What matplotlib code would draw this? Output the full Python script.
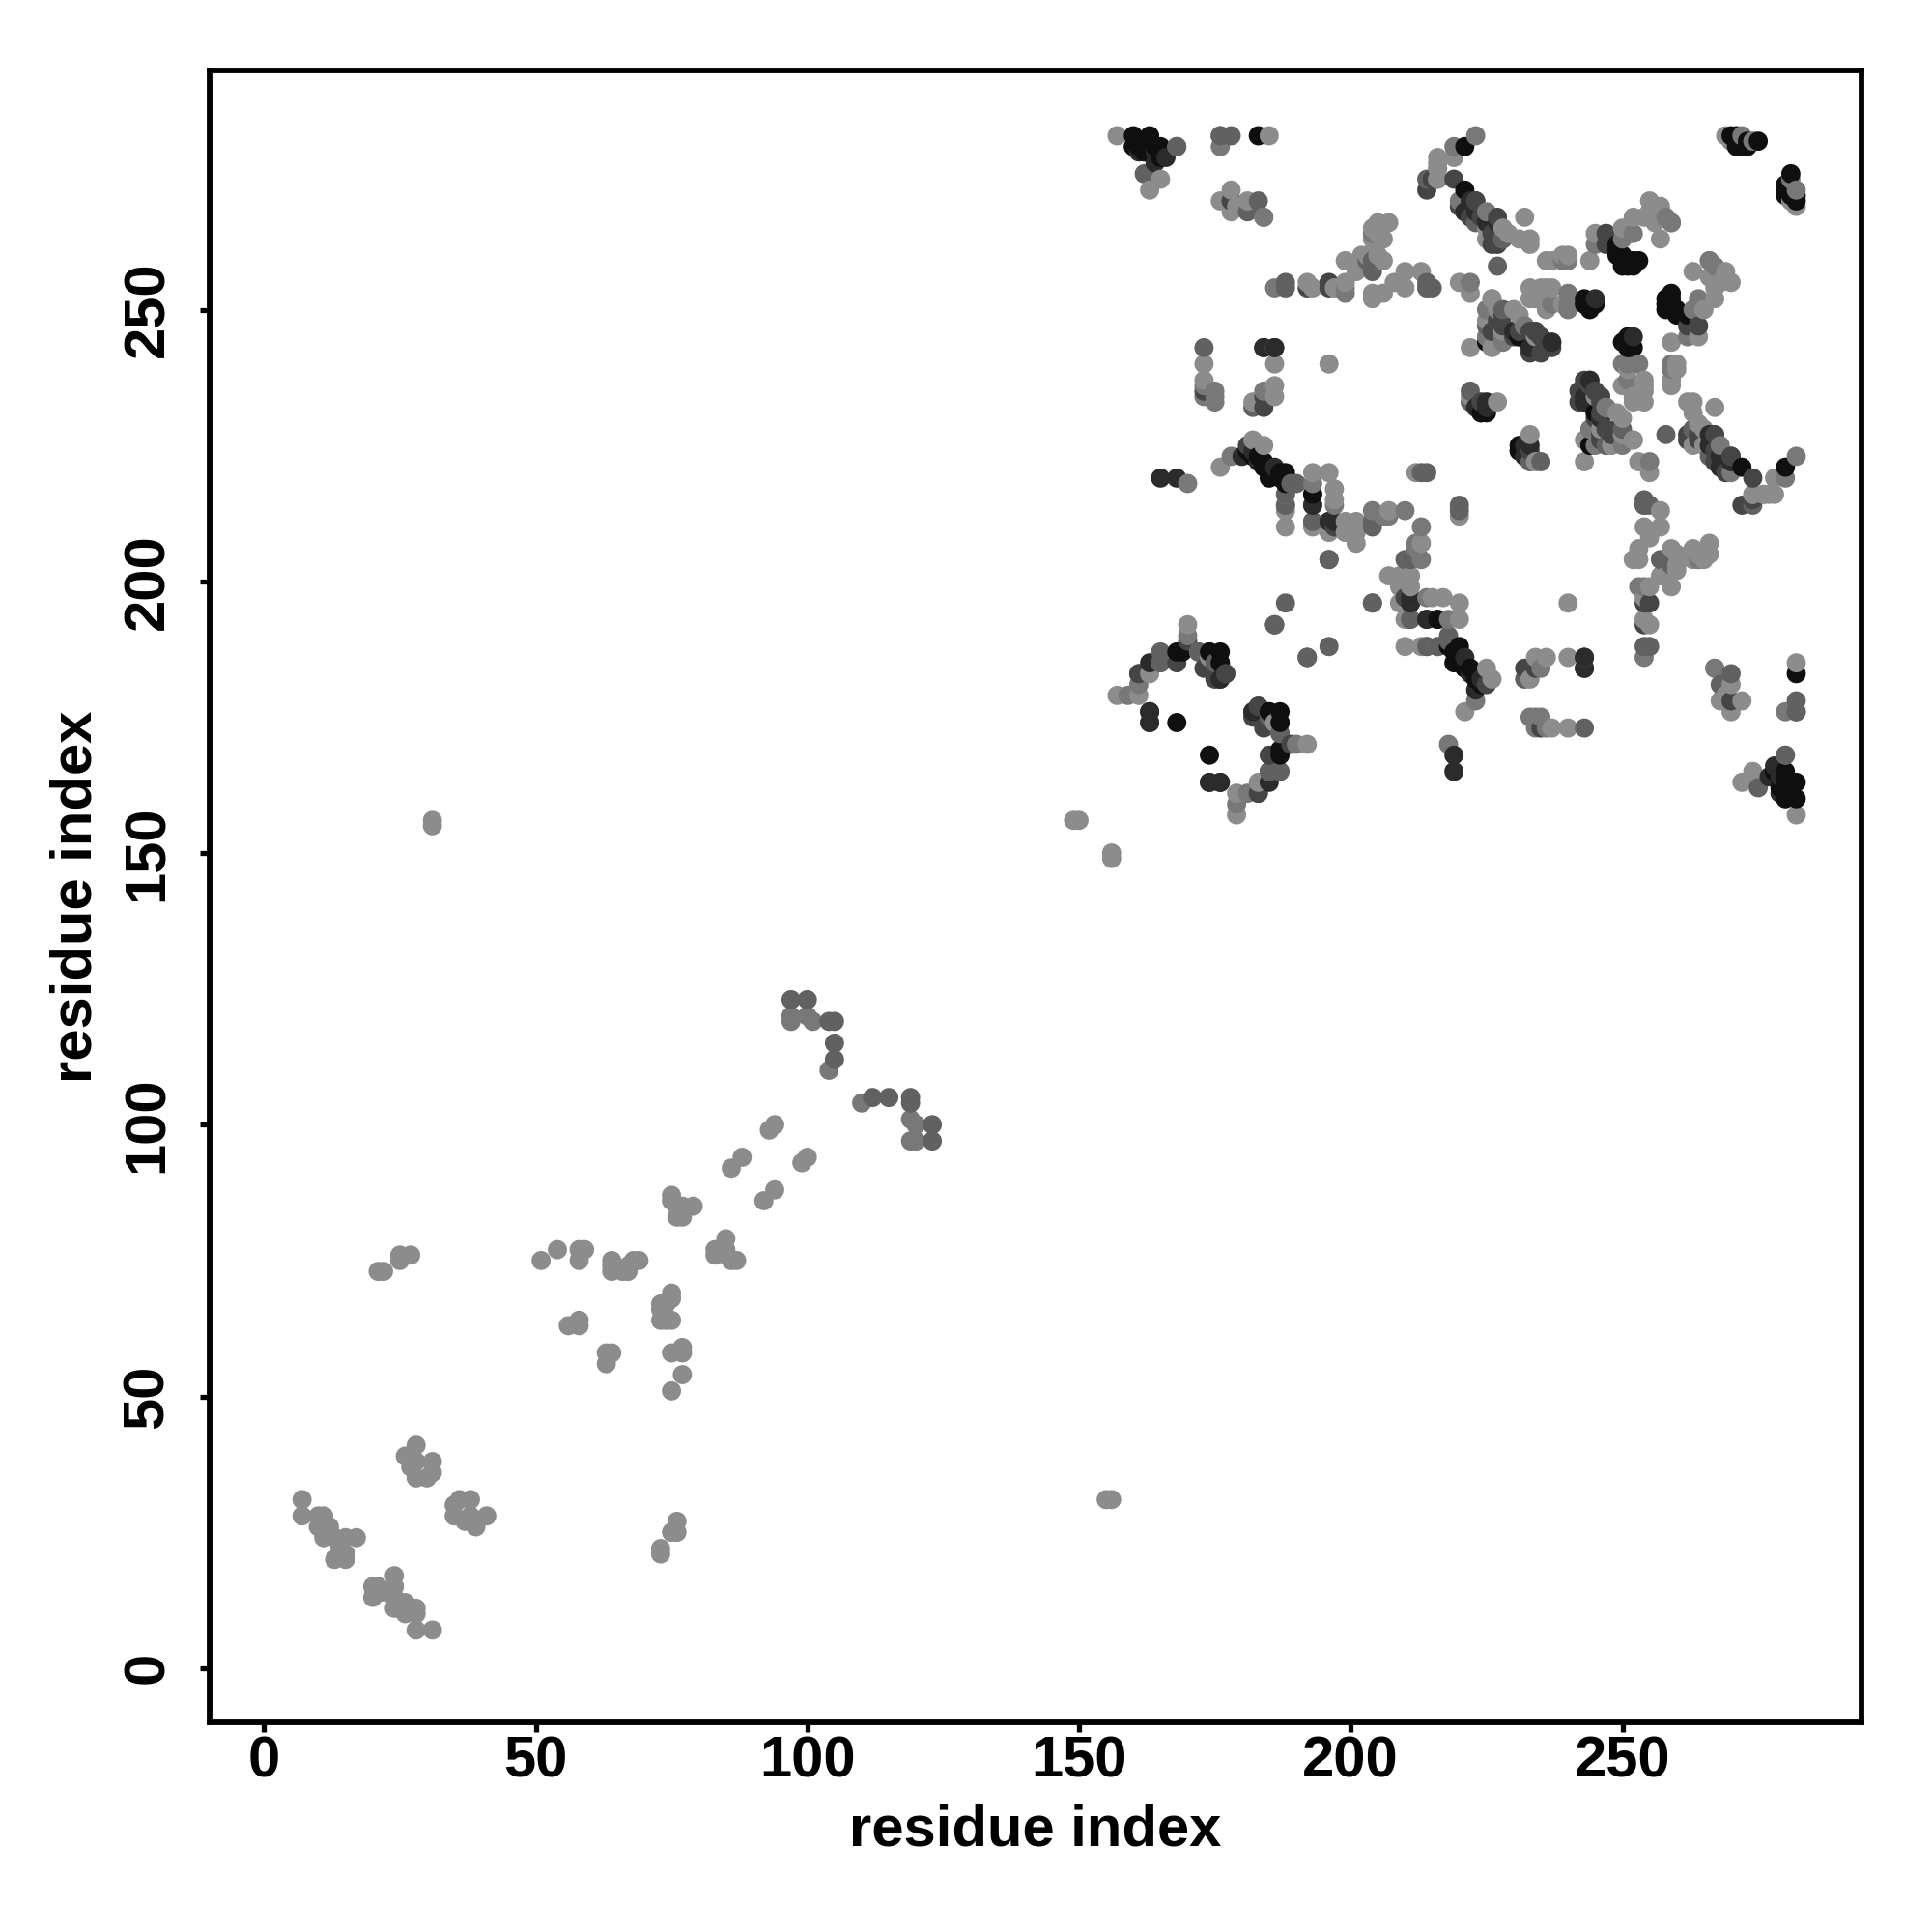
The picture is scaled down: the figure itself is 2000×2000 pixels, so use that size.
"""Residue contact map drawn with grey points, symmetric about the diagonal."""
import numpy as np
import matplotlib
matplotlib.use("Agg")
import matplotlib.pyplot as plt

plt.rcParams["font.family"] = ["Liberation Sans", "DejaVu Sans"]
plt.rcParams["font.weight"] = "bold"

# contacts are stored once, i < j, grouped by shade
light_i = [7, 7, 10, 11, 10, 12, 13, 13, 15, 15, 17, 14, 11, 12, 15,
           26, 28, 28, 30, 31, 28, 27, 31, 21, 22, 25, 25, 27, 31, 31,
           51, 54, 58, 58, 59, 56, 58, 58, 64, 64, 66, 67, 68, 69, 67, 64,
           75, 75, 76, 77, 76, 79, 77, 86, 88, 93, 94, 149, 150,
           157, 160, 165, 163, 185,
           178, 176, 178, 178, 181, 179, 184, 201, 216, 216, 216,
           192, 193, 197, 199, 199, 201, 202, 204, 205, 207, 206, 204, 204,
           206, 204, 206, 208, 210, 210, 213,
           173, 173, 186, 186, 186, 182, 196,
           176, 182, 184, 188, 188, 188, 193, 193, 196, 197, 197, 196,
           199, 199, 201, 201, 201, 207, 204,
           170, 165, 163, 157, 161, 174,
           174, 219, 216, 216, 216, 225, 225, 228, 229, 231, 233, 233, 232,
           236, 237, 239, 240, 244, 245, 250, 252, 254, 255, 257, 255, 256, 257,
           220, 222, 226, 225, 226, 222, 230, 233, 234, 235, 237, 239, 222, 227,
           269, 270, 259,
           236, 236, 233, 231, 232, 234, 228, 232, 228, 226, 227,
           205, 205, 203, 212]
light_j = [31, 28, 28, 28, 26, 26, 24, 20, 21, 24, 24, 22, 24, 26, 20,
           39, 41, 35, 35, 38, 38, 37, 36, 73, 73, 75, 76, 76, 155, 156,
           75, 77, 75, 77, 77, 63, 63, 64, 73, 75, 73, 73, 75, 75, 74, 74,
           87, 86, 85, 83, 83, 85, 85, 92, 94, 99, 100, 156, 156,
           282, 280, 274, 272, 282,
           272, 270, 269, 268, 270, 269, 267, 258, 278, 276, 274,
           255, 254, 254, 259, 255, 257, 260, 265, 266, 266, 263, 263, 252,
           259, 253, 253, 255, 257, 254, 257,
           240, 237, 240, 236, 234, 233, 240,
           221, 226, 225, 216, 213, 210, 220, 210, 220, 217, 215, 209,
           211, 209, 211, 209, 207, 213, 211,
           192, 185, 183, 179, 179, 187,
           186, 278, 277, 276, 274, 265, 263, 265, 264, 263, 263, 262, 267,
           259, 259, 260, 260, 259, 264, 265, 267, 267, 270, 269, 268, 266, 263,
           255, 253, 252, 248, 243, 243, 250, 252, 252, 254, 254, 251, 234, 233,
           282, 281, 266,
           250, 254, 254, 249, 247, 245, 246, 247, 263, 252, 250,
           264, 260, 260, 220]

soft_i = [97, 97, 100, 101, 104, 168, 176, 176, 178, 184, 186, 199, 199, 204,
          173, 173, 175, 175, 175, 184, 170, 172, 159, 161, 204, 206, 207, 223,
          170, 178, 188, 193, 193, 197, 186, 192, 213, 214, 174,
          219, 220, 225, 239, 240, 245, 250, 252, 258, 222, 225, 225, 228, 232,
          237, 240, 272, 274, 259, 240, 240, 228, 227]
soft_j = [120, 119, 120, 119, 110, 280, 280, 282, 270, 267, 254, 254, 253, 264,
          236, 234, 235, 234, 233, 235, 190, 187, 179, 181, 213, 212, 212, 282,
          218, 223, 214, 218, 211, 214, 192, 186, 210, 254, 187,
          280, 270, 268, 259, 259, 262, 263, 264, 267, 255, 250, 245, 245, 247,
          251, 251, 282, 281, 266, 253, 250, 244, 248]

mid_i = [97, 100, 104, 105, 105, 105, 176, 178, 183, 181, 186, 188, 188, 214,
         203, 204, 204, 173, 182, 161, 165, 172, 175, 188, 189, 190, 193, 204,
         196, 188, 186, 204, 192, 214, 196, 214, 214, 215, 227, 168, 165, 162,
         247, 222, 222, 228, 204, 188, 225, 213, 228, 223]
mid_j = [123, 123, 119, 119, 115, 112, 282, 282, 270, 268, 243, 255, 254, 274,
         259, 257, 259, 243, 232, 183, 187, 187, 185, 216, 218, 218, 211, 210,
         204, 196, 243, 196, 186, 255, 211, 220, 254, 254, 258, 280, 185, 275,
         264, 235, 233, 250, 211, 214, 247, 220, 263, 266]

dark_i = [192, 196, 196, 184, 184, 193, 193, 214, 215, 178, 173, 210, 211, 170,
          168, 161, 163, 173, 175, 176, 177, 183, 227, 227, 227, 228, 230, 234,
          236, 237, 247, 247, 243, 219, 223, 222, 220, 221, 227, 224, 227, 181,
          237, 235, 234, 233, 230, 231, 226, 228, 235, 233, 223, 224, 226, 226]
dark_j = [254, 255, 254, 234, 232, 214, 216, 272, 274, 270, 235, 197, 197, 189,
          185, 183, 174, 184, 182, 182, 183, 177, 267, 264, 262, 249, 246, 246,
          244, 244, 264, 262, 251, 274, 270, 267, 269, 268, 248, 233, 246, 225,
          243, 242, 246, 242, 245, 246, 246, 247, 245, 246, 270, 267, 264, 262]

deep_i = [161, 164, 166, 163, 165, 168, 180, 183, 163, 176, 163, 163, 176,
          184, 233, 234, 237, 225, 196, 197, 193, 186, 184, 230, 231, 221, 224, 225, 223, 245,
          182, 222, 223, 225, 227, 164, 186]
deep_j = [279, 279, 278, 176, 219, 219, 223, 222, 185, 185, 176, 174, 182,
          243, 243, 243, 244, 233, 211, 211, 214, 243, 243, 246, 245, 268, 231, 232, 232, 252,
          224, 270, 268, 266, 266, 277, 221]

black_i = [160, 160, 161, 162, 163, 165, 183, 181, 182, 184, 185, 186, 187, 188, 188,
           168, 169, 174, 168, 185, 221, 221, 243, 244, 249, 249, 250, 250, 252, 253,
           270, 271, 271, 272, 275, 225, 224, 176, 193,
           162, 163, 164, 165, 183, 184, 185, 187, 271, 272, 273, 273,
           249, 250, 251, 251, 252, 243, 244, 245, 225, 231]
black_j = [282, 280, 280, 279, 282, 280, 282, 224, 223, 221, 219, 220, 219, 220, 218,
           187, 187, 187, 174, 176, 280, 272, 252, 250, 262, 260, 258, 259, 258, 259,
           282, 282, 280, 280, 281, 244, 231, 187, 216,
           281, 280, 280, 278, 223, 222, 221, 220, 281, 281, 281, 280,
           261, 260, 259, 258, 259, 251, 251, 251, 231, 245]

shades = [(light_i, light_j, 0.55), (soft_i, soft_j, 0.47), (mid_i, mid_j, 0.38),
          (dark_i, dark_j, 0.27), (deep_i, deep_j, 0.17), (black_i, black_j, 0.06)]

x_ticks = [0, 50, 100, 150, 200, 250]
y_ticks = [0, 50, 100, 150, 200, 250]

xs, ys, greys = [], [], []
for i_vals, j_vals, grey in shades:
    i_vals = np.array(i_vals)
    j_vals = np.array(j_vals)
    xs += list(i_vals) + list(j_vals)
    ys += list(j_vals) + list(i_vals)
    greys += [grey] * (2 * len(i_vals))
xs = np.array(xs)
ys = np.array(ys)
greys = np.array(greys)

# original loops over the matrix, so later columns sit on top
order = np.lexsort((ys, xs))
colors = [str(g) for g in greys[order]]

fig = plt.figure(figsize=(10, 10), dpi=200)
ax = fig.add_axes([0.1085, 0.1085, 0.855, 0.855])
ax.scatter(xs[order], ys[order], c=colors, s=51, linewidths=0, clip_on=True)

ax.set_xlim(-10, 294)
ax.set_ylim(-10, 294)
ax.set_xticks(x_ticks)
ax.set_yticks(y_ticks)
ax.tick_params(axis="both", labelsize=21.5, length=3.5, width=1.9, color="black")
ax.tick_params(axis="x", pad=1.5)
ax.tick_params(axis="y", pad=9.5)
for label in ax.get_yticklabels():
    label.set_rotation(90)
    label.set_va("center")
for spine in ax.spines.values():
    spine.set_linewidth(2.1)

ax.set_xlabel("residue index", fontsize=21.5, fontweight="bold", labelpad=5.5)
ax.set_ylabel("residue index", fontsize=21.5, fontweight="bold", labelpad=7)

fig.savefig("out.png", dpi=200)
plt.close(fig)
